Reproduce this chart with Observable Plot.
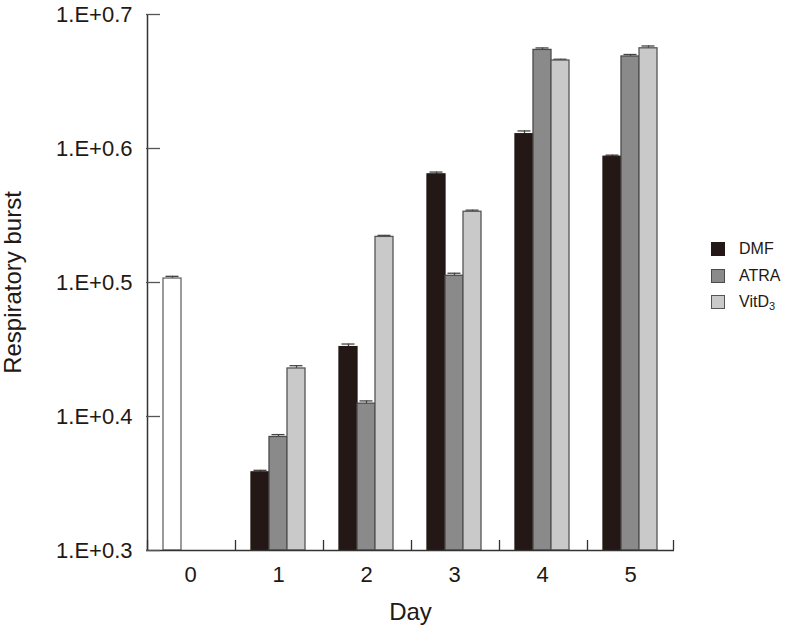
<!DOCTYPE html>
<html>
<head>
<meta charset="utf-8">
<script src="https://cdn.jsdelivr.net/npm/d3@7"></script>
<script src="https://cdn.jsdelivr.net/npm/@observablehq/plot@0.6"></script>
<style>
  body { margin: 0; background: #fff; }
  #wrap { position: relative; width: 785px; height: 632px; }
  #legend { position: absolute; left: 711px; top: 236px; font-family: "Liberation Sans", Arial, sans-serif; font-size: 16px; color: #231815; }
  .item { display: flex; align-items: center; height: 26.5px; }
  .sw { width: 14px; height: 14px; box-sizing: border-box; margin-right: 14px; border: 1px solid #333; }
  sub { font-size: 11px; vertical-align: -3px; line-height: 0; }
</style>
</head>
<body>
<div id="wrap"></div>
<script>
// ---- data ----
const days = ["0", "1", "2", "3", "4", "5"];
const series = ["DMF", "ATRA", "VitD3"];
const seriesLabels = ["DMF", "ATRA", "VitD<sub>3</sub>"];
const seriesFill = ["#231815", "#8a8a8a", "#c9c9c9"];
const seriesStroke = ["#231815", "#4a4a4a", "#555555"];

// day 0 (undifferentiated) value, drawn as a white bar
const day0Value = 3.184;
const day0Error = 0.012;

const dmfValues   = [null, 2.282, 2.830, 3.808, 4.080, 3.925];
const atraValues  = [null, 2.425, 2.568, 3.199, 4.716, 4.663];
const vitd3Values = [null, 2.728, 3.420, 3.571, 4.631, 4.729];

const dmfErrors   = [null, 0.008, 0.015, 0.015, 0.023, 0.011];
const atraErrors  = [null, 0.010, 0.012, 0.014, 0.016, 0.016];
const vitd3Errors = [null, 0.013, 0.009, 0.010, 0.010, 0.019];

const yTickValues = [10 ** 0.3, 10 ** 0.4, 10 ** 0.5, 10 ** 0.6, 10 ** 0.7];
const yTickLabels = ["1.E+0.3", "1.E+0.4", "1.E+0.5", "1.E+0.6", "1.E+0.7"];

// ---- build tables ----
const valueSets = [dmfValues, atraValues, vitd3Values];
const errorSets = [dmfErrors, atraErrors, vitd3Errors];
const groups = series.map((s, k) =>
  days.map((d, i) => ({day: d, slot: s, value: valueSets[k][i], err: errorSets[k][i]}))
      .filter(r => r.value != null)
);
const day0Rows = [{day: "0", slot: "DMF", value: day0Value, err: day0Error}];
const allRows = [...day0Rows, ...groups.flat()];
const yMin = yTickValues[0];
const yMax = yTickValues[yTickValues.length - 1];

const barMarks = groups.map((rows, k) =>
  Plot.barY(rows, {fx: "day", x: "slot", y1: yMin, y2: "value", fill: seriesFill[k], stroke: seriesStroke[k], strokeWidth: 1.3})
);

const chart = Plot.plot({
  width: 785,
  height: 632,
  marginLeft: 146,
  marginRight: 111,
  marginTop: 14,
  marginBottom: 82,
  style: {fontFamily: "'Liberation Sans', Arial, sans-serif", fontSize: "22px", color: "#231815", background: "#fff"},
  fx: {domain: days, padding: 0},
  x: {domain: series, paddingInner: 0, paddingOuter: 0.8158, align: 0.5, axis: null},
  y: {type: "log", domain: [yMin, yMax]},
  marks: [
    // error bars
    Plot.ruleX(allRows, {fx: "day", x: "slot", y1: "value", y2: d => d.value + d.err, stroke: "#444", strokeWidth: 1.3}),
    Plot.tickY(allRows, {fx: "day", x: "slot", y: d => d.value + d.err, stroke: "#444", strokeWidth: 1.3, insetLeft: 2.5, insetRight: 2.5}),
    // bars
    Plot.barY(day0Rows, {fx: "day", x: "slot", y1: yMin, y2: "value", fill: "#fff", stroke: "#666", strokeWidth: 1.3}),
    ...barMarks,
    // x axis line and group boundary ticks
    Plot.ruleY([yMin], {stroke: "#333", strokeWidth: 1.5}),
    Plot.ruleX(days, {fx: d => d, x: () => "DMF", dx: -25, y1: yMin, y2: yMin, insetTop: -10, stroke: "#333", strokeWidth: 1.3}),
    Plot.ruleX([days[days.length - 1]], {fx: d => d, x: () => "VitD3", dx: 25, y1: yMin, y2: yMin, insetTop: -10, stroke: "#333", strokeWidth: 1.3}),
    // y axis line and inward ticks
    Plot.ruleX([days[0]], {fx: d => d, x: () => "DMF", dx: -25, y1: yMin, y2: yMax, stroke: "#333", strokeWidth: 1.5}),
    Plot.ruleY(yTickValues, {fx: () => days[0], y: d => d, insetRight: 74, stroke: "#555", strokeWidth: 1.3}),
    // axes
    Plot.axisY({ticks: yTickValues, tickFormat: d => yTickLabels[yTickValues.indexOf(d)], tickSize: 0, tickPadding: 14, label: null, fontSize: 22}),
    Plot.axisY({ticks: [], label: "Respiratory burst", labelAnchor: "center", labelOffset: 143, labelArrow: "none", fontSize: 24}),
    Plot.axisFx({anchor: "bottom", tickSize: 0, tickPadding: 16, label: null, fontSize: 22}),
    Plot.axisFx({anchor: "bottom", ticks: [], label: "Day", labelAnchor: "center", labelOffset: 69, labelArrow: "none", fontSize: 24})
  ]
});

const wrap = document.getElementById("wrap");
wrap.appendChild(chart);

// legend
const legend = document.createElement("div");
legend.id = "legend";
series.forEach((s, k) => {
  const item = document.createElement("div");
  item.className = "item";
  const sw = document.createElement("span");
  sw.className = "sw";
  sw.style.background = seriesFill[k];
  sw.style.borderColor = seriesStroke[k];
  const lab = document.createElement("span");
  lab.innerHTML = seriesLabels[k];
  item.appendChild(sw);
  item.appendChild(lab);
  legend.appendChild(item);
});
wrap.appendChild(legend);
</script>
</body>
</html>
